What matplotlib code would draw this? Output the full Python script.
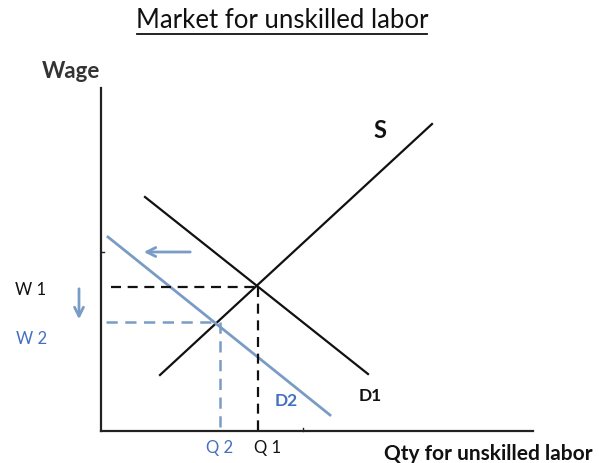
import matplotlib
matplotlib.use("Agg")
import matplotlib.pyplot as plt

# Diagram geometry (figure pixel space, y grows downward)
axis_origin = (101, 431)
y_axis_top = 88
x_axis_right = 533

supply_x = [160, 432]
supply_y = [375, 124]
demand1_x = [145, 368]
demand1_y = [197, 374]
demand2_x = [108, 330]
demand2_y = [237, 415]

eq1 = (258, 287)   # (Q1, W1)
eq2 = (218, 322)   # (Q2, W2)

title = "Market for unskilled labor"
y_label = "Wage"
x_label = "Qty for unskilled labor"
price_labels = ["W 1", "W 2"]
qty_labels = ["Q 1", "Q 2"]
curve_labels = ["S", "D1", "D2"]

BLACK = "#111111"
BLUE_LINE = "#7a9cc4"
BLUE_TEXT = "#4470c0"
FONT = "Lato"

fig = plt.figure(figsize=(5.99, 4.63), dpi=100)
ax = fig.add_axes([0, 0, 1, 1])
ax.set_xlim(0, 599)
ax.set_ylim(463, 0)
ax.axis("off")

# axes
ax.plot([axis_origin[0], axis_origin[0]], [y_axis_top, axis_origin[1]], color="#222222", lw=1.6)
ax.plot([axis_origin[0], x_axis_right], [axis_origin[1], axis_origin[1]], color="#222222", lw=1.6)
ax.plot([axis_origin[0], axis_origin[0] + 3], [252, 252], color="#222222", lw=1)
ax.plot([303, 303], [axis_origin[1], axis_origin[1] - 3], color="#222222", lw=1)

# curves
ax.plot(supply_x, supply_y, color=BLACK, lw=1.6)
ax.plot(demand1_x, demand1_y, color=BLACK, lw=1.6)
ax.plot(demand2_x, demand2_y, color=BLUE_LINE, lw=2)

# dashed guides
ax.plot([111, eq1[0]], [eq1[1], eq1[1]], color=BLACK, lw=1.6, dashes=(4.5, 3))
ax.plot([eq1[0], eq1[0]], [eq1[1], axis_origin[1]], color=BLACK, lw=1.6, dashes=(4.5, 3))
ax.plot([106, eq2[0]], [eq2[1], eq2[1]], color=BLUE_LINE, lw=1.8, dashes=(4.5, 3))
ax.plot([eq2[0] + 2, eq2[0] + 2], [eq2[1], axis_origin[1]], color=BLUE_LINE, lw=1.8, dashes=(4.5, 3))

# shift arrows
ax.annotate("", xy=(141, 252), xytext=(193, 252),
            arrowprops=dict(arrowstyle="->", color=BLUE_LINE, lw=2, mutation_scale=16))
ax.annotate("", xy=(79, 322), xytext=(79, 286),
            arrowprops=dict(arrowstyle="->", color=BLUE_LINE, lw=2, mutation_scale=16))

# texts
ax.text(282, 21, title, ha="center", va="center", fontsize=18.5, family=FONT, color="#111111")
ax.plot([137, 427], [34, 34], color="#111111", lw=1.3)
ax.text(71, 71, y_label, ha="center", va="center", fontsize=16, family=FONT, weight="bold", color="#333333")
ax.text(488, 454, x_label, ha="center", va="center", fontsize=15, family=FONT, weight="bold", color="#111111")

ax.text(31, 290, price_labels[0], ha="center", va="center", fontsize=12, family=FONT, color="#111111")
ax.text(32, 339, price_labels[1], ha="center", va="center", fontsize=12, family=FONT, color=BLUE_TEXT)
ax.text(268, 448, qty_labels[0], ha="center", va="center", fontsize=12, family=FONT, color="#111111")
ax.text(220, 448, qty_labels[1], ha="center", va="center", fontsize=12, family=FONT, color=BLUE_TEXT)

ax.text(380, 131, curve_labels[0], ha="center", va="center", fontsize=17, family=FONT, weight="bold", color="#111111")
ax.text(370, 396, curve_labels[1], ha="center", va="center", fontsize=12.5, family=FONT, weight="bold", color="#111111")
ax.text(286, 401, curve_labels[2], ha="center", va="center", fontsize=12.5, family=FONT, weight="bold", color=BLUE_TEXT)

fig.savefig("out.png", dpi=100)
